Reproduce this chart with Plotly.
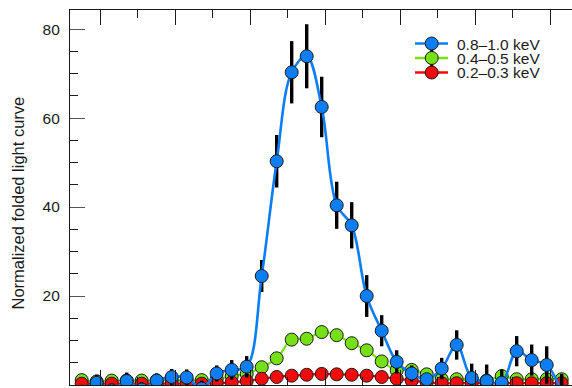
import plotly.graph_objects as go

# Rotational phase of each folded bin (bin width 0.04, more than one cycle shown)
phase = [0.15, 0.19, 0.23, 0.27, 0.31, 0.35, 0.39, 0.43, 0.47, 0.51, 0.55,
         0.59, 0.63, 0.67, 0.71, 0.75, 0.79, 0.83, 0.87, 0.91, 0.95, 0.99,
         1.03, 1.07, 1.11, 1.15, 1.19, 1.23, 1.27, 1.31, 1.35, 1.39, 1.43]

# 0.8-1.0 keV band
hard = [-1.5, 0.5, -1.2, 0.9, -1.0, 1.0, 1.8, 1.7, -0.8, 2.6, 3.4,
        4.1, 24.5, 50.3, 70.3, 73.9, 62.5, 40.4, 35.9, 20.0, 12.2, 5.2,
        2.6, 1.3, 3.7, 9.0, 1.6, 0.9, 0.5, 7.6, 5.6, 4.5, -1.5]
hard_err = [1.5, 1.8, 1.5, 1.9, 1.6, 1.6, 1.8, 1.8, 1.8, 1.8, 2.2,
            2.4, 3.6, 5.9, 7.0, 7.2, 6.8, 5.3, 5.2, 4.7, 3.5, 2.6,
            1.8, 1.2, 2.4, 3.3, 3.2, 3.7, 3.0, 3.4, 3.5, 4.2, 4.0]

# 0.4-0.5 keV band
mid = [1.1, 0.8, 1.0, 1.0, 1.0, 1.0, 1.1, 1.0, 1.1, 1.3, 2.0,
       2.5, 4.0, 6.0, 10.2, 10.4, 11.9, 11.2, 9.4, 7.8, 5.3, 3.3,
       3.4, 2.4, 1.3, 1.3, 1.2, 1.0, 2.0, 1.3, 1.3, 1.3, 1.3]
mid_err = [0.6] * 33

# 0.2-0.3 keV band
soft = [0.3, 0.3, 0.3, 0.3, 0.3, 0.3, 0.3, 0.3, 0.3, 0.4, 0.6,
        0.9, 1.4, 1.8, 2.1, 2.3, 2.5, 2.4, 2.3, 2.1, 1.8, 1.4,
        1.0, 0.6, 0.4, 0.4, 0.4, 0.4, 0.4, 0.4, 0.4, 0.4, 0.4]
soft_err = [0.4] * 33

bands = ["0.8–1.0 keV", "0.4–0.5 keV", "0.2–0.3 keV"]
colors = {"hard": "#0B7DF5", "mid": "#76E014", "soft": "#F50A0A"}
line_widths = {"hard": 2.6, "mid": 2.2, "soft": 2.2}

FONT = "Liberation Sans, Arial, Helvetica, sans-serif"
INK = "#1a1a1a"

fig = go.Figure()


def add_band(y, err, key, name):
    fig.add_trace(go.Scatter(
        x=phase, y=y, name=name, mode="lines+markers",
        line=dict(color=colors[key], width=line_widths[key], shape="spline", smoothing=1.0),
        marker=dict(size=13, color=colors[key], line=dict(color=INK, width=1)),
        error_y=dict(type="data", array=err, visible=True, color="black",
                     thickness=3.4, width=0),
        cliponaxis=True, showlegend=False,
    ))


# draw order: green underneath, red, blue on top
add_band(mid, mid_err, "mid", bands[1])
add_band(soft, soft_err, "soft", bands[2])
add_band(hard, hard_err, "hard", bands[0])

# legend keys built from shapes and annotations in paper coordinates
L, R, T, B = 70, 0, 10, 3
W, H = 572, 388
pw, ph = W - L - R, H - T - B


def px_x(p):
    return (p - L) / pw


def px_y(p):
    return (H - B - p) / ph


rows = [43.5, 58.0, 72.5]
keys = ["hard", "mid", "soft"]
shapes = []
# black error-bar stroke behind the legend symbols
shapes.append(dict(type="line", xref="paper", yref="paper",
                   x0=px_x(431.7), x1=px_x(431.7), y0=px_y(rows[0]), y1=px_y(rows[-1]),
                   line=dict(color="black", width=3)))
for k, r in zip(keys, rows):
    shapes.append(dict(type="line", xref="paper", yref="paper",
                       x0=px_x(415), x1=px_x(448), y0=px_y(r), y1=px_y(r),
                       line=dict(color=colors[k], width=2.6)))
for k, r in zip(keys, rows):
    shapes.append(dict(type="circle", xref="paper", yref="paper",
                       xsizemode="pixel", ysizemode="pixel",
                       xanchor=px_x(431.7), yanchor=px_y(r),
                       x0=-6.5, x1=6.5, y0=-6.5, y1=6.5,
                       fillcolor=colors[k], line=dict(color=INK, width=1)))

annotations = []
for name, r in zip(bands, rows):
    annotations.append(dict(xref="paper", yref="paper", x=px_x(456), y=px_y(r),
                            text=name, showarrow=False, xanchor="left", yanchor="middle",
                            height=14, valign="middle", borderpad=0,
                            font=dict(family=FONT, size=15.5, color=INK)))
annotations.append(dict(xref="paper", yref="paper", x=px_x(17.5), y=px_y(203),
                        text="Normalized folded light curve", textangle=-90,
                        showarrow=False, xanchor="center", yanchor="middle",
                        font=dict(family=FONT, size=16.5, color=INK)))

fig.update_layout(
    width=W, height=H,
    margin=dict(l=L, r=R, t=T, b=B, pad=0),
    paper_bgcolor="white", plot_bgcolor="white",
    font=dict(family=FONT, size=15.5, color=INK),
    shapes=shapes, annotations=annotations,
    showlegend=False,
)

fig.update_xaxes(
    range=[0.1188, 1.4575], showgrid=False, zeroline=False,
    showline=True, linecolor=INK, linewidth=1.2, mirror="ticks",
    ticks="inside", tick0=0, dtick=0.2, ticklen=15, tickwidth=1.2, tickcolor=INK,
    showticklabels=False,
    minor=dict(ticks="inside", dtick=0.1, tick0=0, ticklen=8, tickwidth=1.2, tickcolor=INK),
)
fig.update_yaxes(
    range=[0, 84.3], showgrid=False, zeroline=False,
    showline=True, linecolor=INK, linewidth=1.2, mirror=False,
    ticks="inside", tickmode="array", tickvals=[20, 40, 60, 80],
    ticklen=15, tickwidth=1.2, tickcolor="#555",
    ticklabelstandoff=6,
    minor=dict(ticks="inside", tickmode="linear", tick0=0, dtick=5, ticklen=8,
               tickwidth=1.2, tickcolor=INK),
)

fig.write_html("out.html")
